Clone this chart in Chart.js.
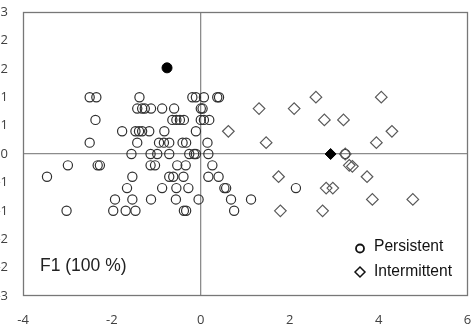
<!DOCTYPE html>
<html><head><meta charset="utf-8">
<script src="https://cdn.jsdelivr.net/npm/chart.js@4"></script>
<style>
html,body{margin:0;padding:0;background:#fff;overflow:hidden;width:476px;height:330px}
#wrap{position:absolute;left:-10px;top:0;width:486px;height:330px}
</style></head><body><div id="wrap"><canvas id="c" width="486" height="330"></canvas></div>
<script>
// ---- data ----
const persistentX = [
  -2.50,-2.35,-1.38,-0.19,-0.11,0.07,0.37,0.41,
  -1.43,-1.32,-1.26,-1.12,-0.87,-0.60,0.00,0.04,
  -2.37,-0.64,-0.55,-0.47,-0.38,0.00,0.07,0.19,
  -1.77,-1.47,-1.39,-1.32,-1.16,-0.82,-0.11,
  -2.50,-1.43,-0.94,-0.83,-0.71,-0.41,-0.33,0.15,
  -1.56,-1.13,-0.98,-0.71,-0.26,-0.15,-0.11,0.17,3.25,
  -2.99,-2.32,-2.27,-1.13,-1.03,-0.53,-0.34,0.26,
  -3.46,-1.54,-0.71,-0.62,-0.39,0.17,0.40,
  -1.66,-0.87,-0.55,-0.28,0.53,0.57,2.14,
  -1.93,-1.54,-1.12,-0.56,-0.05,0.68,1.13,
  -3.02,-1.97,-1.69,-1.47,-0.38,-0.33,0.75
];
const persistentY = [
  1.2,1.2,1.2,1.2,1.2,1.2,1.2,1.2,
  0.96,0.96,0.96,0.96,0.96,0.96,0.96,0.96,
  0.72,0.72,0.72,0.72,0.72,0.72,0.72,0.72,
  0.48,0.48,0.48,0.48,0.48,0.48,0.48,
  0.24,0.24,0.24,0.24,0.24,0.24,0.24,0.24,
  0,0,0,0,0,0,0,0,0,
  -0.24,-0.24,-0.24,-0.24,-0.24,-0.24,-0.24,-0.24,
  -0.48,-0.48,-0.48,-0.48,-0.48,-0.48,-0.48,
  -0.72,-0.72,-0.72,-0.72,-0.72,-0.72,-0.72,
  -0.96,-0.96,-0.96,-0.96,-0.96,-0.96,-0.96,
  -1.2,-1.2,-1.2,-1.2,-1.2,-1.2,-1.2
];
const intermittentX = [0.62,1.31,1.47,1.75,1.79,2.10,2.59,2.74,2.78,2.82,2.97,3.21,3.25,3.34,3.41,3.74,3.86,3.95,4.06,4.30,4.77];
const intermittentY = [0.48,0.96,0.24,-0.48,-1.2,0.96,1.2,-1.2,0.72,-0.72,-0.72,0.72,0,-0.24,-0.26,-0.48,-0.96,0.24,1.2,0.48,-0.96];
const persistentCentroid = [-0.76, 1.82];
const intermittentCentroid = [2.92, 0];
const xTickValues = [-4,-2,0,2,4,6];
const yTickValues = [-3,-2.4,-1.8,-1.2,-0.6,0,0.6,1.2,1.8,2.4,3];
const yTickLabels = ['-3','-2','-2','-1','-1','0','1','1','2','2','3'];
const seriesNames = ['Persistent','Intermittent'];
const axisNote = 'F1 (100 %)';

const pts = (xs, ys) => xs.map((x, i) => ({x, y: ys[i]}));

const decor = {
  id: 'decor',
  beforeDatasetsDraw(chart) {
    const {ctx, chartArea: a} = chart;
    ctx.save();
    ctx.strokeStyle = '#777';
    ctx.lineWidth = 1.3;
    ctx.strokeRect(Math.round(a.left) + 0.5, Math.round(a.top) + 0.5,
                   Math.round(a.right - a.left) - 1, Math.round(a.bottom - a.top) - 1);
    ctx.restore();
  },
  afterDatasetsDraw(chart) {
    const {ctx, chartArea: a} = chart;
    ctx.save();
    ctx.fillStyle = '#222';
    ctx.textBaseline = 'middle';
    ctx.textAlign = 'left';
    ctx.font = '17.5px "Liberation Sans", Arial, sans-serif';
    ctx.fillText(axisNote, a.left + 17, a.bottom - 30);
    // legend
    ctx.font = '15.6px "Liberation Sans", Arial, sans-serif';
    const mx = a.right - 107.5, tx = a.right - 93.5;
    const y1 = a.bottom - 49, y2 = a.bottom - 24;
    ctx.strokeStyle = '#111';
    ctx.lineWidth = 1.8;
    ctx.beginPath(); ctx.arc(mx, y1 + 1.5, 4, 0, Math.PI * 2); ctx.stroke();
    ctx.lineWidth = 1.5;
    const r = 5;
    ctx.beginPath();
    ctx.moveTo(mx - r, y2); ctx.lineTo(mx, y2 - r); ctx.lineTo(mx + r, y2); ctx.lineTo(mx, y2 + r); ctx.closePath();
    ctx.stroke();
    ctx.fillStyle = '#111';
    ctx.fillText(seriesNames[0], tx, y1);
    ctx.fillText(seriesNames[1], tx, y2);
    ctx.restore();
  }
};

const tickFont = {family: '"Open Sans", "Liberation Sans", sans-serif', size: 13};
const zeroGrid = ctx => (ctx.tick && ctx.tick.value === 0) ? '#8c8c8c' : 'rgba(0,0,0,0)';
const noPad = s => { s.paddingTop = 0; s.paddingBottom = 0; s.paddingLeft = 0; s.paddingRight = 0; };

new Chart(document.getElementById('c'), {
  type: 'scatter',
  data: {
    datasets: [
      {label: seriesNames[1], data: pts(intermittentX, intermittentY), pointStyle: 'rectRot',
       pointRadius: 5.8, borderColor: '#5a5a5a', borderWidth: 1.2, backgroundColor: 'rgba(0,0,0,0)'},
      {label: seriesNames[0], data: pts(persistentX, persistentY), pointStyle: 'circle',
       pointRadius: 4.6, borderColor: '#303030', borderWidth: 1.2, backgroundColor: 'rgba(0,0,0,0)'},
      {label: 'centroid P', data: [{x: persistentCentroid[0], y: persistentCentroid[1]}], pointStyle: 'circle',
       pointRadius: 5, borderColor: '#000', borderWidth: 1, backgroundColor: '#000'},
      {label: 'centroid I', data: [{x: intermittentCentroid[0], y: intermittentCentroid[1]}], pointStyle: 'rectRot',
       pointRadius: 5.5, borderColor: '#000', borderWidth: 1, backgroundColor: '#000'}
    ]
  },
  options: {
    responsive: false,
    animation: false,
    devicePixelRatio: 1,
    layout: {padding: {top: 12, right: 8.5, left: 0, bottom: 0}},
    plugins: {legend: {display: false}, tooltip: {enabled: false}},
    scales: {
      x: {
        type: 'linear', min: -4, max: 6,
        afterBuildTicks: s => { s.ticks = xTickValues.map(v => ({value: v})); },
        afterFit: s => { s.height = 34; noPad(s); },
        ticks: {font: tickFont, color: '#404040', padding: 16, maxRotation: 0, autoSkip: false},
        grid: {color: zeroGrid, drawTicks: false, lineWidth: 1.3},
        border: {display: false}
      },
      y: {
        type: 'linear', min: -3, max: 3,
        afterBuildTicks: s => { s.ticks = yTickValues.map(v => ({value: v})); },
        afterFit: s => { s.width = 33; noPad(s); },
        ticks: {font: tickFont, color: '#404040', padding: 15, autoSkip: false,
                callback: (v, i) => yTickLabels[i]},
        grid: {color: zeroGrid, drawTicks: false, lineWidth: 1.3},
        border: {display: false}
      }
    }
  },
  plugins: [decor]
});
</script></body></html>
